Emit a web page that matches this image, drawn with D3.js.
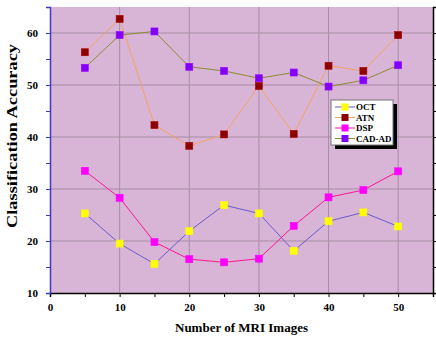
<!DOCTYPE html>
<html>
<head>
<meta charset="utf-8">
<script src="https://cdn.jsdelivr.net/npm/d3@7"></script>
<style>
  body { margin: 0; background: #fff; }
  text { font-family: "Liberation Serif", "Times New Roman", serif; font-weight: bold; }
</style>
</head>
<body>
<svg id="chart" width="436" height="342"></svg>
<script>
// data
const imageCounts = [5, 10, 15, 20, 25, 30, 35, 40, 45, 50];
const octValues = [25.3, 19.5, 15.6, 21.9, 26.9, 25.3, 18.1, 23.8, 25.5, 22.8];
const atnValues = [56.3, 62.7, 42.3, 38.3, 40.5, 49.8, 40.6, 53.7, 52.7, 59.6];
const dspValues = [33.5, 28.3, 19.8, 16.5, 15.9, 16.6, 22.9, 28.4, 29.8, 33.4];
const cadValues = [53.3, 59.6, 60.3, 53.5, 52.7, 51.3, 52.4, 49.7, 50.9, 53.8];
const seriesNames = ['OCT', 'ATN', 'DSP', 'CAD-AD'];
const xTicks = [0, 10, 20, 30, 40, 50];
const yTicks = [10, 20, 30, 40, 50, 60];

const margin = {top: 7, right: 3, bottom: 49, left: 50};
const width = 436, height = 342;
const svg = d3.select('#chart');

const x = d3.scaleLinear().domain([0, 55]).range([margin.left, width - margin.right]);
const y = d3.scaleLinear().domain([10, 65]).range([height - margin.bottom, margin.top]);

const series = [
  {name: seriesNames[0], values: octValues, line: '#6a5acd', fill: '#ffff00'},
  {name: seriesNames[1], values: atnValues, line: '#f4a460', fill: '#8b0000'},
  {name: seriesNames[2], values: dspValues, line: '#ff1493', fill: '#ff00ff'},
  {name: seriesNames[3], values: cadValues, line: '#8b8b2e', fill: '#8000ff'}
];

// plot background
svg.append('rect')
  .attr('x', x(0)).attr('y', y(65))
  .attr('width', x(55) - x(0)).attr('height', y(10) - y(65))
  .attr('fill', '#d8b4d6');

// grid
const grid = svg.append('g').attr('stroke', '#a68ea6').attr('stroke-width', 1);
grid.selectAll('.vg').data(xTicks.filter(d => d > 0)).join('line')
  .attr('x1', d => x(d)).attr('x2', d => x(d))
  .attr('y1', y(10)).attr('y2', y(65));
grid.selectAll('.hg').data(yTicks.filter(d => d > 10)).join('line')
  .attr('x1', x(0)).attr('x2', x(55))
  .attr('y1', d => y(d)).attr('y2', d => y(d));

// axes
const xAxis = svg.append('g')
  .attr('transform', `translate(0,${y(10)})`)
  .call(d3.axisBottom(x).tickValues(d3.range(0, 55, 5)).tickSize(4)
    .tickFormat(d => xTicks.includes(d) ? d : ''));
xAxis.select('.domain').attr('stroke', '#000').attr('stroke-width', 1.5);
xAxis.selectAll('text').attr('font-size', 11).attr('dy', '1.0em').attr('fill', '#000')
  .attr('font-family', '"Liberation Serif", serif').attr('font-weight', 'bold');

const yAxis = svg.append('g')
  .attr('transform', `translate(${x(0)},0)`)
  .call(d3.axisLeft(y).tickValues(d3.range(10, 65, 5)).tickSize(4)
    .tickFormat(d => yTicks.includes(d) ? d : ''));
yAxis.select('.domain').attr('stroke', '#3b3bc8').attr('stroke-width', 1.5);
yAxis.selectAll('line').attr('stroke', '#3b3bc8');
yAxis.selectAll('text').attr('font-size', 11).attr('dx', '-0.45em').attr('fill', '#000')
  .attr('font-family', '"Liberation Serif", serif').attr('font-weight', 'bold');

const rAxis = svg.append('g')
  .attr('transform', `translate(${x(55)},0)`)
  .call(d3.axisRight(y).tickValues(d3.range(10, 65, 5)).tickSize(4).tickFormat(''));
rAxis.select('.domain').attr('stroke', '#000').attr('stroke-width', 1.5);

// lines and markers
const line = d3.line().x((d, i) => x(imageCounts[i])).y(d => y(d));
series.forEach(s => {
  svg.append('path')
    .datum(s.values)
    .attr('fill', 'none')
    .attr('stroke', s.line)
    .attr('stroke-width', 1)
    .attr('d', line);
  svg.append('g').selectAll('rect').data(s.values).join('rect')
    .attr('x', (d, i) => x(imageCounts[i]) - 3.5)
    .attr('y', d => y(d) - 3.5)
    .attr('width', 7).attr('height', 7)
    .attr('fill', s.fill)
    .attr('stroke', d3.color(s.fill).brighter(0.6))
    .attr('stroke-width', 0.6);
});

// legend
const lg = svg.append('g').attr('transform', 'translate(331,100)');
lg.append('rect').attr('x', 4).attr('y', 4).attr('width', 62).attr('height', 45).attr('fill', '#000');
lg.append('rect').attr('x', 0).attr('y', 0).attr('width', 62).attr('height', 45)
  .attr('fill', '#fff').attr('stroke', '#777').attr('stroke-width', 1);
series.forEach((s, i) => {
  const row = lg.append('g').attr('transform', `translate(0,${7 + i * 10.5})`);
  row.append('line').attr('x1', 4).attr('x2', 24).attr('stroke', s.line);
  row.append('rect').attr('x', 10.5).attr('y', -3.5).attr('width', 7).attr('height', 7).attr('fill', s.fill);
  row.append('text').attr('x', 25).attr('y', 3.2).attr('font-size', 9).text(s.name);
});

// axis titles
svg.append('text')
  .attr('x', (x(0) + x(55)) / 2).attr('y', 332)
  .attr('text-anchor', 'middle').attr('font-size', 13)
  .text('Number of MRI Images');
svg.append('text')
  .attr('transform', 'translate(17,136) rotate(-90)')
  .attr('text-anchor', 'middle').attr('font-size', 14)
  .attr('textLength', 184).attr('lengthAdjust', 'spacingAndGlyphs')
  .text('Classification Accuracy');
</script>
</body>
</html>
